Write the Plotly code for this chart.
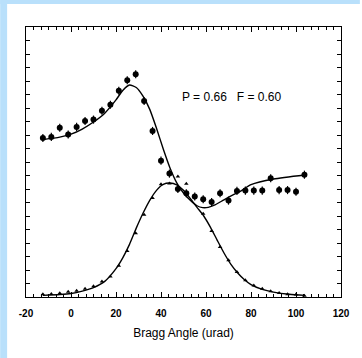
import plotly.graph_objects as go

# Bragg angle grid (urad)
angle = [-12.5, -8.75, -5, -1.25, 2.5, 6.25, 10, 13.75, 17.5, 21.25, 25, 28.75,
         32.5, 36.25, 40, 43.75, 47.5, 51.25, 55, 58.75, 62.5, 66.25, 70, 73.75,
         77.5, 81.25, 85, 88.75, 92.5, 96.25, 100, 103.75]

upper_y = [0.589, 0.593, 0.627, 0.602, 0.630, 0.652, 0.657, 0.690, 0.712, 0.764,
           0.803, 0.825, 0.726, 0.615, 0.505, 0.457, 0.400, 0.384, 0.372, 0.362,
           0.352, 0.384, 0.357, 0.393, 0.394, 0.394, 0.394, 0.440, 0.396, 0.396,
           0.390, 0.453]
upper_err = [0.015] * len(angle)

lower_y = [0.010, 0.011, 0.014, 0.019, 0.023, 0.031, 0.040, 0.057, 0.076, 0.116,
           0.170, 0.236, 0.305, 0.367, 0.418, 0.420, 0.446, 0.419, 0.370, 0.308,
           0.244, 0.185, 0.136, 0.093, 0.062, 0.043, 0.031, 0.021, 0.015, 0.010,
           0.009, 0.005]

fit_up_x = [-12.5, -5, 0, 5, 10, 15, 20, 23, 26, 29, 32, 35, 38, 41, 44, 47, 50,
            53, 56, 58.5, 61, 64, 68, 72, 75, 80, 90, 104]
fit_up_y = [0.583, 0.592, 0.603, 0.622, 0.648, 0.681, 0.730, 0.765, 0.785, 0.776,
            0.744, 0.695, 0.625, 0.548, 0.478, 0.423, 0.385, 0.358, 0.338, 0.331,
            0.332, 0.341, 0.360, 0.378, 0.390, 0.416, 0.437, 0.452]

fit_lo_x = [-12.5, -5, 0, 5, 10, 15, 20, 23, 26, 29, 32, 35, 38, 41, 44, 47, 50,
            53, 56, 59, 62, 65, 68, 71, 74, 77, 80, 85, 90, 97, 104]
fit_lo_y = [0.006, 0.009, 0.013, 0.022, 0.035, 0.058, 0.105, 0.145, 0.195, 0.255,
            0.310, 0.358, 0.395, 0.417, 0.422, 0.415, 0.395, 0.365, 0.332, 0.300,
            0.258, 0.210, 0.163, 0.122, 0.090, 0.065, 0.046, 0.028, 0.018, 0.010,
            0.006]

x_ticks = [-20, 0, 20, 40, 60, 80, 100, 120]
annotation_text = "P = 0.66   F = 0.60"
x_title = "Bragg Angle (urad)"

fig = go.Figure()
fig.add_trace(go.Scatter(x=fit_up_x, y=fit_up_y, mode="lines",
                         line=dict(color="black", width=1.4, shape="spline", smoothing=0.6),
                         hoverinfo="skip"))
fig.add_trace(go.Scatter(x=fit_lo_x, y=fit_lo_y, mode="lines",
                         line=dict(color="black", width=1.4, shape="spline", smoothing=0.6),
                         hoverinfo="skip"))
fig.add_trace(go.Scatter(x=angle, y=upper_y, mode="markers",
                         marker=dict(symbol="circle", size=6, color="black"),
                         error_y=dict(type="data", array=upper_err, color="black",
                                      thickness=1.2, width=0)))
fig.add_trace(go.Scatter(x=angle, y=lower_y, mode="markers",
                         marker=dict(symbol="triangle-up", size=4, color="black")))

L, R, T, B = 26, 19, 27, 61
pw, ph = 362 - L - R, 358 - T - B
blue = "#b9e0fb"
fig.add_shape(type="rect", xref="paper", yref="paper",
              x0=-L / pw, x1=(7 - L) / pw, y0=-B / ph, y1=(ph + T) / ph,
              fillcolor=blue, line_width=0, layer="below")
fig.add_shape(type="rect", xref="paper", yref="paper",
              x0=-L / pw, x1=(362 - L) / pw, y0=(ph + T - 4) / ph, y1=(ph + T) / ph,
              fillcolor=blue, line_width=0, layer="below")

fig.add_annotation(x=48.5, y=0.742, xref="x", yref="y", text=annotation_text,
                   showarrow=False, xanchor="left", yanchor="middle",
                   font=dict(family="Liberation Sans, Arial", size=12, color="black"))

fig.update_layout(
    width=362, height=358,
    margin=dict(l=L, r=R, t=T, b=B),
    paper_bgcolor="white", plot_bgcolor="white",
    showlegend=False,
    xaxis=dict(range=[-20, 120], tickvals=x_ticks,
               ticktext=["<b>%d</b>" % v for v in x_ticks],
               showgrid=False, zeroline=False, showline=True, linecolor="black",
               linewidth=1.2, mirror="ticks", ticks="inside", ticklen=5,
               tickcolor="black", tickwidth=1, ticklabelstandoff=7,
               minor=dict(ticks="inside", ticklen=3, dtick=20 / 6, tick0=0,
                          tickcolor="black"),
               tickfont=dict(family="Liberation Sans, Arial", size=10, color="black"),
               title=dict(text=x_title, standoff=10,
                          font=dict(family="Liberation Sans, Arial", size=12, color="black"))),
    yaxis=dict(range=[0, 1], showticklabels=False, showgrid=False, zeroline=False,
               showline=True, linecolor="black", linewidth=1.2, mirror="ticks",
               ticks="inside", ticklen=4, dtick=0.05, tickcolor="black", tickwidth=1),
)

fig.write_html("out.html", config={"displayModeBar": False},
               post_script="document.body.style.margin='0';document.body.style.overflow='hidden';")
